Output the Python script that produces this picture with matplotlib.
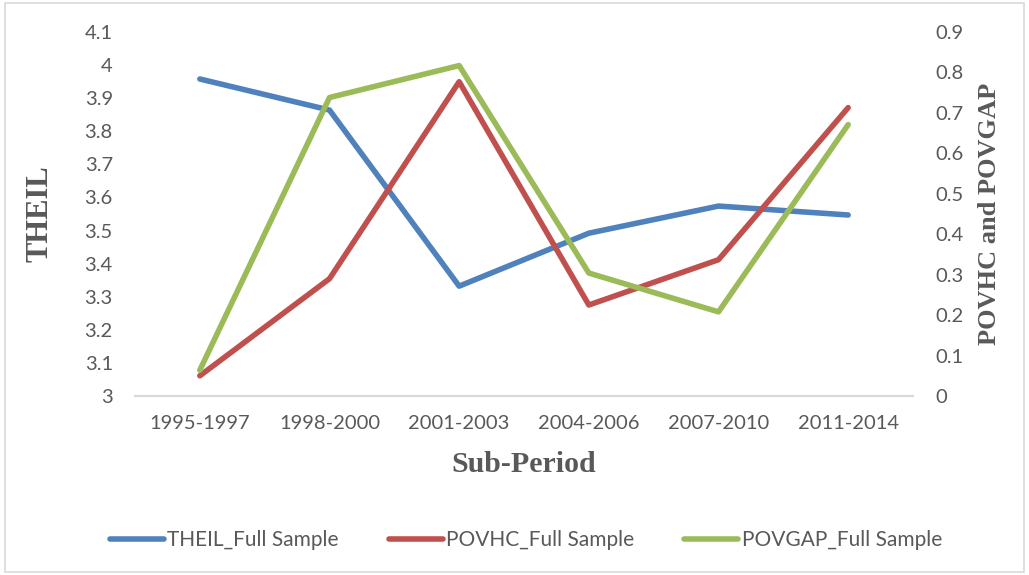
import matplotlib
matplotlib.use("Agg")
import matplotlib.pyplot as plt
from matplotlib.patches import Rectangle

# Data
periods = ["1995-1997", "1998-2000", "2001-2003", "2004-2006", "2007-2010", "2011-2014"]
theil = [3.958, 3.864, 3.332, 3.492, 3.574, 3.547]
povhc = [0.050, 0.290, 0.777, 0.225, 0.337, 0.713]
povgap = [0.064, 0.738, 0.817, 0.304, 0.208, 0.671]

theil_ticks = [3.0, 3.1, 3.2, 3.3, 3.4, 3.5, 3.6, 3.7, 3.8, 3.9, 4.0, 4.1]
theil_labels = ["3", "3.1", "3.2", "3.3", "3.4", "3.5", "3.6", "3.7", "3.8", "3.9", "4", "4.1"]
pov_ticks = [0, 0.1, 0.2, 0.3, 0.4, 0.5, 0.6, 0.7, 0.8, 0.9]
pov_labels = ["0", "0.1", "0.2", "0.3", "0.4", "0.5", "0.6", "0.7", "0.8", "0.9"]

BLUE = "#4F81BD"
RED = "#C0504D"
GREEN = "#9BBB59"
TXT = "#595959"

plt.rcParams["font.family"] = ["Lato", "DejaVu Sans"]

fig = plt.figure(figsize=(10.29, 5.75), dpi=100)
ax = fig.add_axes([135 / 1029, 1 - 396 / 575, (913 - 135) / 1029, (396 - 32) / 575])
ax2 = ax.twinx()

x = list(range(len(periods)))
l1, = ax.plot(x, theil, color=BLUE, lw=4, solid_capstyle="round", label="THEIL_Full Sample")
l2, = ax2.plot(x, povhc, color=RED, lw=4, solid_capstyle="round", label="POVHC_Full Sample")
l3, = ax2.plot(x, povgap, color=GREEN, lw=4, solid_capstyle="round", label="POVGAP_Full Sample")

ax.set_xlim(-0.5, len(periods) - 0.5)
ax.set_ylim(3.0, 4.1)
ax2.set_ylim(0, 0.9)

ax.set_xticks(x)
ax.set_xticklabels(periods)
ax.set_yticks(theil_ticks)
ax.set_yticklabels(theil_labels)
ax2.set_yticks(pov_ticks)
ax2.set_yticklabels(pov_labels)

ax.tick_params(axis="x", length=0, pad=14, labelsize=14.5, labelcolor=TXT)
ax.tick_params(axis="y", length=0, pad=16, labelsize=14.5, labelcolor=TXT)
ax2.tick_params(axis="y", length=0, pad=16, labelsize=14.5, labelcolor=TXT)

for a in (ax, ax2):
    for s in ("top", "left", "right", "bottom"):
        a.spines[s].set_visible(False)
ax.spines["bottom"].set_visible(True)
ax.spines["bottom"].set_color("#D9D9D9")
ax.spines["bottom"].set_linewidth(1.5)

serif = ["Liberation Serif", "DejaVu Serif"]
fig.text(40 / 1029, 1 - 214 / 575, "THEIL", rotation=90, ha="center", va="center",
         fontsize=22, fontweight="bold", family=serif, color=TXT)
fig.text(990 / 1029, 1 - 214 / 575, "POVHC and POVGAP", rotation=90, ha="center", va="center",
         fontsize=19, fontweight="bold", family=serif, color=TXT)
fig.text(524 / 1029, 1 - 465 / 575, "Sub-Period", ha="center", va="center",
         fontsize=21.5, fontweight="bold", family=serif, color=TXT)

leg = fig.legend(handles=[l1, l2, l3], loc="center", bbox_to_anchor=(526 / 1029, 1 - 540 / 575),
                 ncol=3, frameon=False, fontsize=15, handlelength=2.6, handletextpad=0.15,
                 columnspacing=2.4)
for t in leg.get_texts():
    t.set_color(TXT)

fig.patches.append(Rectangle((5 / 1029, 3 / 575), 1019 / 1029, 569 / 575, transform=fig.transFigure,
                             fill=False, edgecolor="#D9D9D9", lw=1.2))

fig.savefig("out.png", dpi=100, facecolor="white")
